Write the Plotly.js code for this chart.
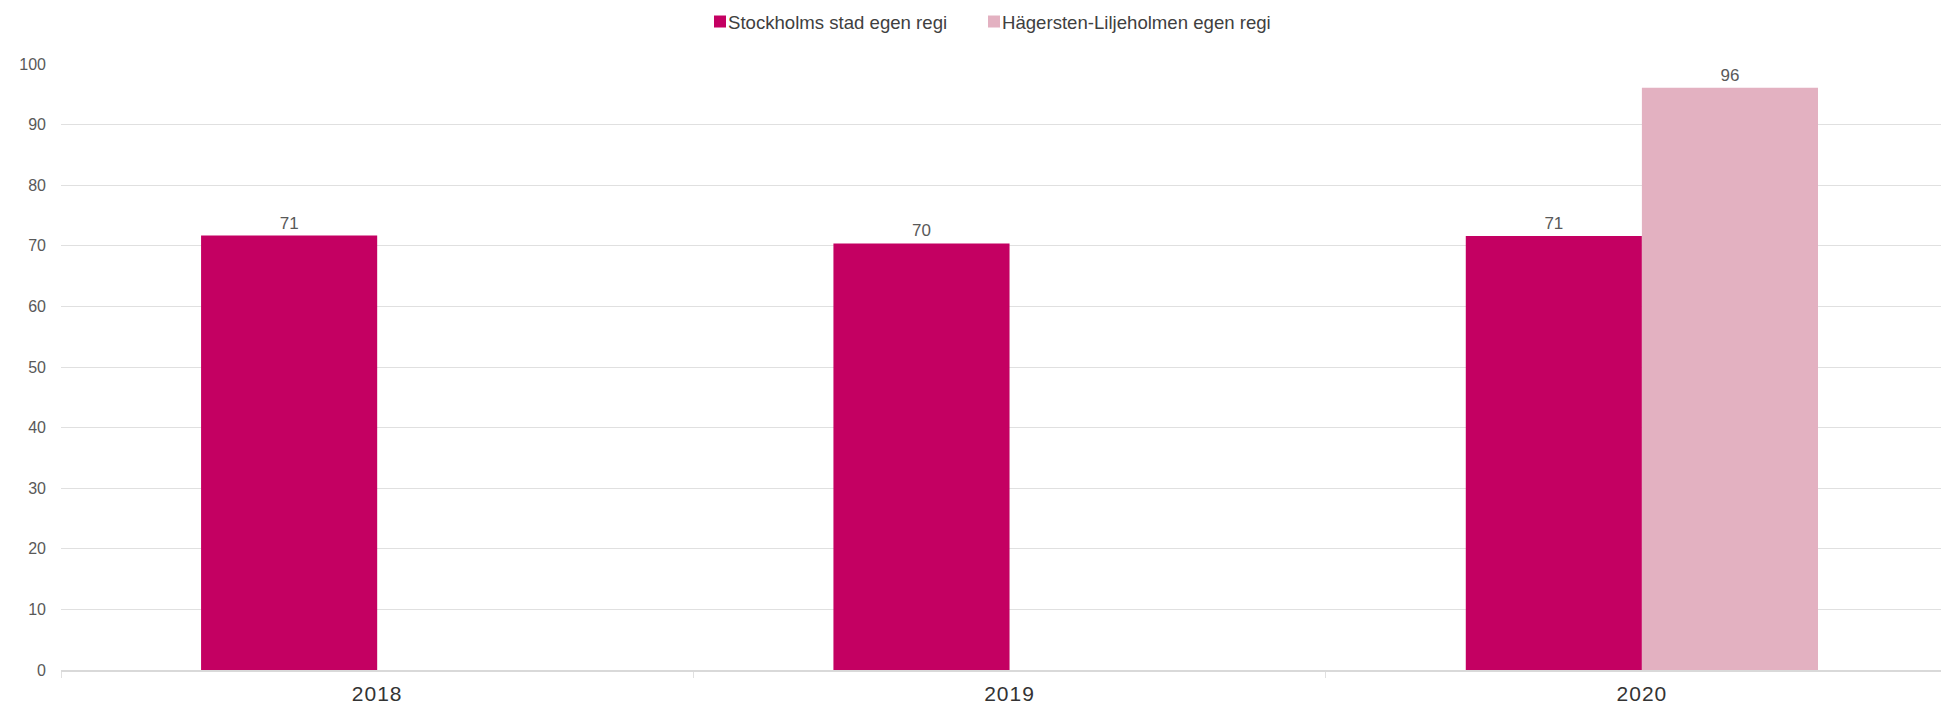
<!DOCTYPE html>
<html>
<head>
<meta charset="utf-8">
<script src="https://cdn.plot.ly/plotly-3.0.1.min.js"></script>
<style>
html,body{margin:0;padding:0;overflow:hidden;background:#fff;}
#chart{width:1941px;height:707px;}
#chart .legend .legendtext{transform:translateX(-12px);}
#chart .legend .scrollbox, #chart .legend g{clip-path:none !important;}
.xtick text{letter-spacing:1px;}
.textpoint text{letter-spacing:1px;}
</style>
</head>
<body>
<div id="chart"></div>
<script>
// Data
const years = ["2018", "2019", "2020"];
const stockholmValues = [71.7, 70.4, 71.6];
const stockholmLabels = ["71", "70", "71"];
const hagerstenValues = [null, null, 96.1];
const hagerstenLabels = ["", "", "96"];
const seriesNames = ["Stockholms stad egen regi", "Hägersten-Liljeholmen egen regi"];
const yTicks = [0, 10, 20, 30, 40, 50, 60, 70, 80, 90, 100];

const fontFam = "Liberation Sans, Arial, sans-serif";

const traces = [
  {
    type: "bar",
    name: seriesNames[0],
    x: years,
    y: stockholmValues,
    text: stockholmLabels,
    textposition: "outside",
    textfont: {family: fontFam, size: 17, color: "#595959"},
    cliponaxis: false,
    marker: {color: "#C40062"},
    hoverinfo: "x+y"
  },
  {
    type: "bar",
    name: seriesNames[1],
    x: years,
    y: hagerstenValues,
    text: hagerstenLabels,
    textposition: "outside",
    textfont: {family: fontFam, size: 17, color: "#595959"},
    cliponaxis: false,
    marker: {color: "#E3B1C1"},
    hoverinfo: "x+y"
  }
];

const layout = {
  width: 1941,
  height: 707,
  margin: {l: 61, r: 0, t: 64, b: 37},
  paper_bgcolor: "#ffffff",
  plot_bgcolor: "#ffffff",
  barmode: "group",
  bargap: 0.443,
  bargroupgap: 0,
  showlegend: true,
  legend: {
    orientation: "h",
    x: 700 / 1941,
    xref: "container",
    xanchor: "left",
    y: 0.969,
    yref: "container",
    yanchor: "middle",
    font: {family: fontFam, size: 18.6, color: "#404040"},
    itemwidth: 30,
    entrywidth: 229,
    tracegroupgap: 0
  },
  xaxis: {
    type: "category",
    range: [-0.5, 2.473],
    showgrid: false,
    showline: true,
    linecolor: "#d9d9d9",
    linewidth: 2,
    ticks: "outside",
    tickson: "boundaries",
    ticklen: 6,
    tickcolor: "#e0e0e0",
    tickwidth: 1,
    ticklabelstandoff: 4,
    tickfont: {family: fontFam, size: 21, color: "#333333"},
    zeroline: false,
    fixedrange: true
  },
  yaxis: {
    range: [0, 100],
    tickvals: yTicks,
    showgrid: true,
    gridcolor: "#e0e0e0",
    gridwidth: 1,
    zeroline: false,
    showline: false,
    ticks: "",
    ticklabelstandoff: 14,
    tickfont: {family: fontFam, size: 16, color: "#595959"},
    fixedrange: true
  }
};

Plotly.newPlot("chart", traces, layout, {displayModeBar: false, staticPlot: true});
</script>
</body>
</html>
